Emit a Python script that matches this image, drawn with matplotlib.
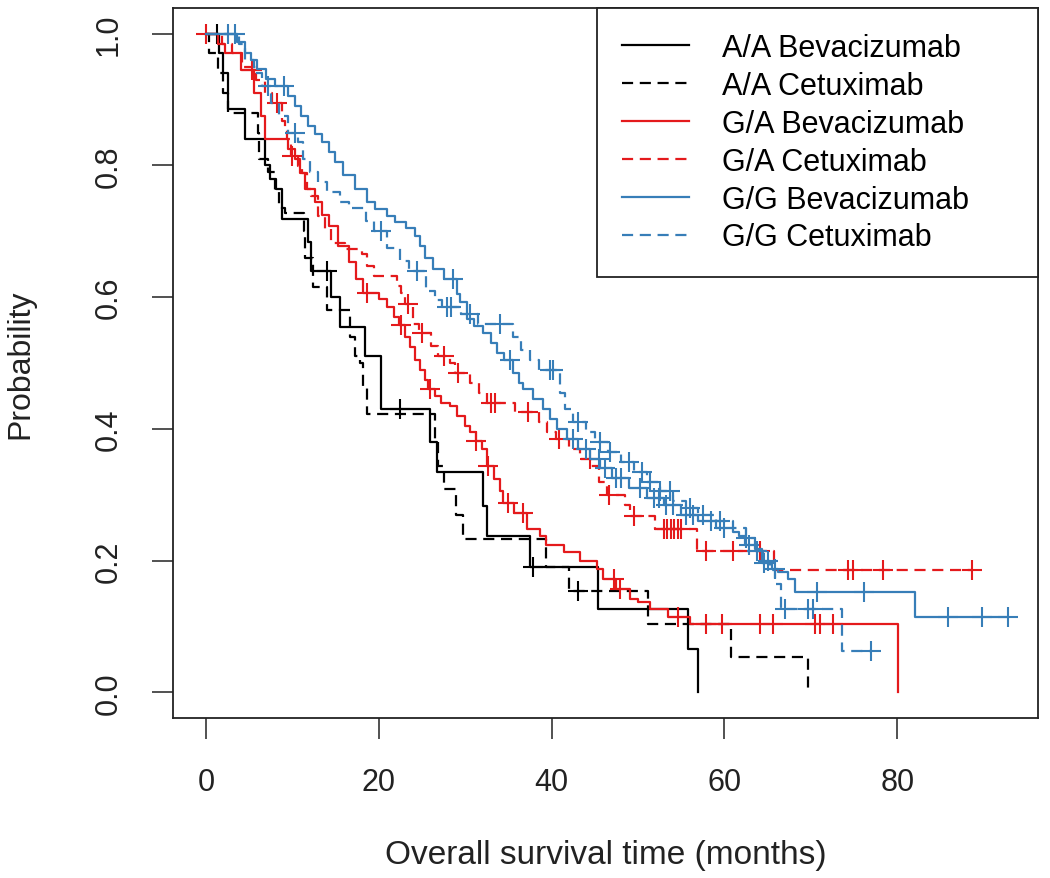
import numpy as np
import matplotlib.pyplot as plt
from matplotlib.lines import Line2D

plt.rcParams['font.family'] = ['Liberation Sans', 'DejaVu Sans']

# Kaplan-Meier steps: event times (months) and survival after each step
aa_bev_t = [0, 1.5, 2.0, 2.6, 4.5, 6.8, 7.4, 8.1, 8.8, 11.8, 12.2, 14.5, 15.5, 18.4, 20.3,
            25.9, 26.7, 32.1, 32.5, 37.5, 45.4, 55.8, 57.0]
aa_bev_s = [1.0, 0.97, 0.94, 0.886, 0.84, 0.80, 0.78, 0.764, 0.719, 0.684, 0.64, 0.60, 0.555, 0.511, 0.43,
            0.38, 0.334, 0.283, 0.238, 0.19, 0.126, 0.066, 0.0]
aa_bev_cens = [1.3, 14.0, 22.5, 37.9]

aa_cet_t = [0, 0.3, 1.4, 2.0, 2.6, 6.0, 6.1, 7.2, 8.0, 8.5, 9.1, 11.3, 11.5, 12.4, 14.0, 16.7, 17.2,
            17.8, 18.2, 18.6, 26.5, 26.8, 27.5, 28.9, 29.8, 39.4, 42.0, 51.2, 60.8, 69.7]
aa_cet_s = [1.0, 0.97, 0.94, 0.91, 0.88, 0.85, 0.81, 0.79, 0.76, 0.735, 0.728, 0.70, 0.66, 0.615, 0.58, 0.54, 0.51,
            0.50, 0.465, 0.423, 0.385, 0.344, 0.309, 0.27, 0.233, 0.19, 0.154, 0.104, 0.053, 0.0]
aa_cet_cens = [43.0]

ga_bev_t = [0, 1.4, 2.2, 4.1, 5.5, 6.4, 6.8, 9.5, 10.3, 10.9, 11.5, 12.6, 13.4, 14.2, 15.3, 16.5, 17.4,
            18.2, 20.0, 21.0, 21.8, 22.3, 23.0, 23.6, 24.2, 24.8, 25.3, 25.7, 26.5, 27.2, 28.2, 29.0,
            30.0, 30.6, 31.3, 31.9, 32.5, 33.3, 34.0, 34.4, 35.6, 37.1, 38.7, 39.4, 41.4, 43.3, 45.2,
            46.0, 47.5, 49.1, 50.0, 51.4, 53.5, 56.0, 80.1]
ga_bev_s = [1.0, 0.985, 0.97, 0.945, 0.91, 0.875, 0.84, 0.825, 0.81, 0.789, 0.764, 0.744, 0.725, 0.708, 0.678, 0.653, 0.627,
            0.607, 0.597, 0.585, 0.57, 0.557, 0.54, 0.525, 0.505, 0.49, 0.475, 0.46, 0.45, 0.44, 0.435, 0.42,
            0.405, 0.395, 0.382, 0.37, 0.344, 0.324, 0.305, 0.288, 0.273, 0.248, 0.238, 0.223, 0.213, 0.2, 0.187,
            0.172, 0.157, 0.142, 0.137, 0.1265, 0.114, 0.104, 0.0]
ga_bev_cens = [0.0, 5.3, 18.6, 22.6, 25.9, 31.3, 32.6, 35.0, 36.7, 47.2, 47.9, 54.6,
               57.9, 59.7, 64.1, 65.6, 70.5, 71.1, 72.6]

ga_cet_t = [0, 1.8, 3.0, 4.2, 5.8, 6.8, 7.6, 8.8, 9.2, 9.4, 9.8, 10.7, 11.1, 11.7, 12.2, 13.0, 13.8,
            14.5, 16.1, 18.0, 18.6, 19.4, 22.1, 22.6, 23.0, 24.0, 24.6, 26.0, 26.8, 28.2, 28.8, 30.6,
            31.6, 32.5, 35.8, 38.5, 39.5, 40.5, 42.0, 43.3, 44.6, 45.5, 46.4, 48.5, 49.1, 52.0, 56.8, 65.7]
ga_cet_s = [1.0, 0.985, 0.97, 0.95, 0.93, 0.91, 0.895, 0.868, 0.854, 0.84, 0.815, 0.799, 0.789, 0.764, 0.754, 0.724, 0.703,
            0.683, 0.673, 0.665, 0.647, 0.632, 0.617, 0.607, 0.59, 0.56, 0.545, 0.526, 0.51, 0.50, 0.485, 0.47,
            0.455, 0.44, 0.425, 0.41, 0.395, 0.385, 0.37, 0.355, 0.344, 0.32, 0.30, 0.285, 0.268, 0.248, 0.215, 0.185]
ga_cet_cens = [8.2, 9.9, 23.4, 25.0, 27.5, 29.2, 33.0, 33.4, 37.3, 40.8, 44.4, 46.7, 49.5,
               53.0, 53.4, 53.8, 54.2, 54.6, 55.0, 57.9, 61.0, 64.1, 74.3, 74.9, 78.4, 88.6]

gg_bev_t = [0, 3.6, 4.5, 5.2, 5.9, 7.0, 8.0, 9.5, 10.3, 11.0, 11.8, 12.6, 13.4, 14.2, 14.9, 15.9, 17.2,
            18.6, 19.6, 20.9, 21.9, 23.2, 24.2, 24.8, 25.3, 26.3, 27.5, 29.0, 29.4, 30.2, 31.0, 32.1,
            33.0, 33.7, 34.5, 35.5, 36.2, 36.7, 37.8, 39.0, 39.8, 40.6, 41.8, 43.0, 44.5, 45.6, 47.0,
            49.0, 51.0, 53.0, 55.0, 57.0, 59.0, 61.0, 61.7, 62.4, 63.5, 64.3, 65.5, 66.2, 67.4, 68.2, 82.1]
gg_bev_s = [1.0, 0.987, 0.97, 0.96, 0.946, 0.931, 0.92, 0.905, 0.891, 0.875, 0.86, 0.848, 0.835, 0.82, 0.805, 0.785, 0.764,
            0.744, 0.734, 0.724, 0.714, 0.705, 0.693, 0.678, 0.66, 0.643, 0.628, 0.605, 0.592, 0.567, 0.556, 0.546,
            0.53, 0.516, 0.505, 0.485, 0.47, 0.461, 0.445, 0.43, 0.415, 0.40, 0.385, 0.37, 0.355, 0.34, 0.325,
            0.31, 0.295, 0.285, 0.27, 0.26, 0.25, 0.243, 0.238, 0.223, 0.218, 0.197, 0.187, 0.182, 0.172, 0.152, 0.114]
gg_bev_cens = [2.6, 9.0, 28.6, 35.2, 42.5, 44.0, 45.5, 46.2, 47.5, 48.0, 50.2, 51.8, 52.4, 53.2,
               54.0, 55.6, 56.4, 58.5, 60.0, 62.8, 64.6, 65.8, 70.7, 76.1, 85.9, 89.8, 92.8]

gg_cet_t = [0, 3.8, 4.5, 5.5, 6.5, 7.5, 8.5, 9.5, 10.6, 11.2, 12.0, 13.0, 14.0, 15.5, 16.5, 18.5, 19.5,
            21.0, 22.5, 23.5, 25.5, 26.5, 27.3, 29.5, 31.5, 35.5, 36.5, 37.5, 38.5, 41.0, 41.6, 42.5,
            44.0, 45.0, 46.5, 48.0, 49.5, 51.0, 52.5, 54.0, 55.5, 57.0, 59.0, 61.0, 62.5, 63.5, 64.5,
            65.3, 65.8, 66.6, 73.6]
gg_cet_s = [1.0, 0.985, 0.96, 0.94, 0.92, 0.895, 0.875, 0.85, 0.835, 0.81, 0.79, 0.775, 0.76, 0.745, 0.735, 0.715, 0.70,
            0.675, 0.655, 0.64, 0.61, 0.595, 0.585, 0.575, 0.56, 0.54, 0.52, 0.505, 0.49, 0.455, 0.43, 0.41,
            0.395, 0.38, 0.365, 0.35, 0.335, 0.32, 0.305, 0.29, 0.28, 0.27, 0.26, 0.25, 0.235, 0.215, 0.2,
            0.185, 0.165, 0.127, 0.063]
gg_cet_cens = [3.4, 7.2, 10.3, 20.3, 24.4, 27.9, 28.3, 30.5, 34.0, 39.8, 40.2, 43.0, 45.6, 46.8,
               49.0, 50.5, 51.4, 52.5, 53.7, 56.0, 57.5, 59.5, 62.5, 63.8, 65.0, 67.0, 69.7, 70.3, 77.0]

labels = ["A/A Bevacizumab", "A/A Cetuximab", "G/A Bevacizumab",
          "G/A Cetuximab", "G/G Bevacizumab", "G/G Cetuximab"]

RED = '#E41A1C'
BLUE = '#377EB8'
DASH = (0, (5, 3))

curves = [
    (aa_bev_t, aa_bev_s, aa_bev_cens, 'black', '-'),
    (aa_cet_t, aa_cet_s, aa_cet_cens, 'black', DASH),
    (ga_bev_t, ga_bev_s, ga_bev_cens, RED, '-'),
    (ga_cet_t, ga_cet_s, ga_cet_cens, RED, DASH),
    (gg_bev_t, gg_bev_s, gg_bev_cens, BLUE, '-'),
    (gg_cet_t, gg_cet_s, gg_cet_cens, BLUE, DASH),
]

fig = plt.figure(figsize=(10.5, 8.79), dpi=100)
ax = fig.add_axes([0.1645, 0.182, 0.8241, 0.8074])

for t, s, cens, col, ls in curves:
    t = np.array(t, dtype=float)
    s = np.array(s, dtype=float)
    end = max(t[-1], max(cens))
    tt = np.append(t, end)
    ss = np.append(s, s[-1])
    ax.step(tt, ss, where='post', color=col, linestyle=ls, lw=1.6)
    c = np.array(cens)
    cy = s[np.searchsorted(t, c, side='right') - 1]
    ax.plot(c, cy, linestyle='none', marker='+', color=col, ms=15, mew=1.5)

ax.set_xlim(-3.85, 96.3)
ax.set_ylim(-0.039, 1.0386)
ax.set_xticks([0, 20, 40, 60, 80])
ax.set_yticks([0.0, 0.2, 0.4, 0.6, 0.8, 1.0])
ax.set_yticklabels(['0.0', '0.2', '0.4', '0.6', '0.8', '1.0'])
ax.tick_params(length=15, width=1.1, pad=20, labelsize=22, colors='#222222')
plt.setp(ax.get_yticklabels(), rotation=90, va='center')
for sp in ax.spines.values():
    sp.set_linewidth(1.3)
    sp.set_color('#222222')

ax.set_xlabel('Overall survival time (months)', fontsize=24, color='#222222')
ax.xaxis.set_label_coords(0.5, -0.171)
ax.set_ylabel('Probability', fontsize=23, color='#222222')
ax.yaxis.label.set_va('center')
ax.yaxis.set_label_coords(-0.176, 0.5)

handles = [Line2D([], [], color=c[3], linestyle=c[4], lw=1.6) for c in curves]
leg = ax.legend(handles, labels, loc='upper right', bbox_to_anchor=(0.4904, 0, 0.5096, 1),
                mode='expand', borderaxespad=0, fancybox=False, framealpha=1,
                edgecolor='#222222', fontsize=22, handlelength=2.22, handletextpad=1.08,
                borderpad=0.8, labelspacing=0.26)
leg.get_frame().set_linewidth(1.3)

fig.savefig('out.png', dpi=100)
